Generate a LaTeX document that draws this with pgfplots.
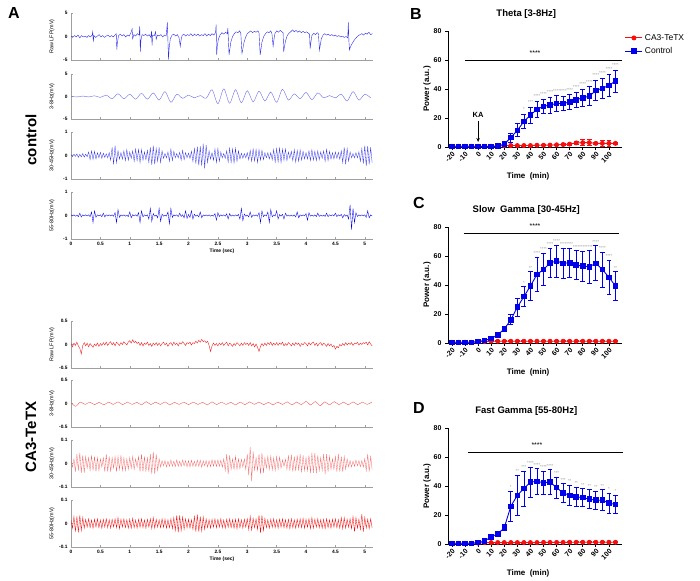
\documentclass[border=0pt]{standalone}
\usepackage{pgfplots}
\pgfplotsset{compat=1.18}
\usepackage{pgfplotstable}
\usepackage{fontspec}
\setmainfont{Liberation Sans}
\usetikzlibrary{arrows.meta}

\definecolor{tblue}{RGB}{45,45,235}
\definecolor{tred}{RGB}{238,35,35}
\definecolor{pblue}{RGB}{0,0,235}
\definecolor{pred}{RGB}{245,15,15}

\pgfplotsset{
  trace/.style={
    scale only axis, width=302pt, height=47pt, anchor=south west,
    xmin=0, xmax=5.14,
    axis x line*=bottom, axis y line*=left,
    axis line style={gray!75, line width=0.5pt},
    tick style={gray!75, line width=0.5pt},
    major tick length=2pt,
    xtick={0,0.5,...,5}, xticklabels={},
    scaled y ticks=false,
    /pgf/number format/assume math mode=true,
    tick label style={font=\fontsize{4.8}{5}\selectfont\bfseries},
    ylabel style={at={(axis description cs:-0.063,0.5)}, anchor=center,
      font=\fontsize{5.4}{6}\selectfont},
    xlabel style={at={(axis description cs:0.5,-0.25)}, anchor=center,
      font=\fontsize{5}{6}\selectfont\bfseries},
  },
  lastrow/.style={xticklabels={0,0.5,1,1.5,2,2.5,3,3.5,4,4.5,5}, xlabel={Time (sec)}},
  pw/.style={
    scale only axis, width=174pt, height=116pt, anchor=south west,
    xmin=-23, xmax=110, ymin=0, ymax=80, clip=false,
    axis x line*=bottom, axis y line*=left,
    axis line style={black, line width=0.8pt},
    tick style={black, line width=0.8pt},
    tick align=outside, major tick length=3pt,
    xtick={-20,-10,...,100}, ytick={0,20,...,80},
    /pgf/number format/assume math mode=true,
    y tick label style={font=\fontsize{7}{7}\selectfont\bfseries},
    x tick label style={font=\fontsize{7}{7}\selectfont\bfseries, rotate=45, anchor=north east,
      inner sep=1pt},
    ylabel={Power (a.u.)}, xlabel={Time\ \ (min)},
    ylabel style={at={(axis description cs:-0.12,0.5)}, anchor=center,
      font=\fontsize{8}{9}\selectfont\bfseries},
    xlabel style={at={(axis description cs:0.46,-0.25)}, anchor=center,
      font=\fontsize{8}{9}\selectfont\bfseries},
    title style={at={(axis description cs:0.45,1)}, anchor=center, yshift=11pt,
      font=\fontsize{9.5}{10}\selectfont\bfseries},
  },
  errb/.style={error bars/y dir=both, error bars/y explicit,
    error bars/error bar style={line width=0.75pt},
    error bars/error mark options={rotate=90, mark size=2.4pt, line width=0.75pt}},
  ctl/.style={pblue, line width=0.9pt, mark=square*, mark size=2.3pt, errb},
  tetx/.style={pred, line width=0.9pt, mark=*, mark size=2pt, errb},
  stars/.style={only marks, mark=none, nodes near coords, point meta=explicit symbolic,
    forget plot, nodes near coords style={font=\fontsize{4.3}{4.5}\selectfont, gray!85,
      anchor=south, inner sep=0.5pt}},
}

% power data: time, mean, sem
\pgfplotstableread{
x y e
-20 0.5 0.2
-15 0.5 0.2
-10 0.5 0.2
-5 0.5 0.2
0 0.5 0.2
5 0.3 0.2
10 0.3 0.2
15 0.6 0.3
20 2 1
25 6.5 3
30 11.5 4.5
35 17.5 5
40 22 5.5
45 26 5.5
50 28 5
55 29 5.5
60 30 5.5
65 30 5
70 31 5
75 32.5 5.5
80 34 6
85 35 6.5
90 39 7
95 40.5 7
100 42.5 7.5
105 45.5 7.5
}\thC
\pgfplotstableread{
x y e
-20 0.5 0.2
-15 0.5 0.2
-10 0.5 0.2
-5 0.5 0.2
0 0.5 0.2
5 0.5 0.2
10 0.5 0.2
15 0.6 0.2
20 1 0.3
25 1 0.3
30 1 0.3
35 1 0.3
40 1 0.3
45 1.2 0.3
50 1.2 0.3
55 1.3 0.4
60 1.5 0.5
65 1.7 0.5
70 2 0.6
75 2.8 1
80 3 2
85 3 2
90 2.5 1
95 2.5 2
100 2.5 2
105 2.5 0.8
}\thT
\pgfplotstableread{
x y s
35 24.5 *
40 29.5 ***
45 33.5 ****
50 35 ****
55 36.5 ****
60 37 ****
65 37 ****
70 37.5 ****
75 40 ****
80 42 ****
85 43.5 ****
90 48 ****
95 49.5 ****
100 52 ****
105 55 ****
}\thS

\pgfplotstableread{
x y e
-20 0.5 0.2
-15 0.5 0.2
-10 0.5 0.2
-5 0.5 0.2
0 1 0.3
5 1.8 0.5
10 3 1
15 5.7 1
20 9.6 1.5
25 16 3.5
30 24.7 6
35 32 7
40 39.3 10
45 47.3 12
50 50.7 11
55 55.3 10
60 56.5 11
65 55 10.5
70 55.3 10
75 53.7 10
80 53 10.5
85 52.6 11.5
90 55 12
95 50.7 12
100 45.3 12
105 39.3 10
}\sgC
\pgfplotstableread{
x y e
-20 0.5 0.2
-15 0.5 0.2
-10 0.5 0.2
-5 0.5 0.2
0 0.8 0.2
5 1 0.3
10 1.2 0.3
15 1.2 0.3
20 1.2 0.3
25 1.2 0.3
30 1.2 0.3
35 1.2 0.3
40 1.2 0.3
45 1.2 0.3
50 1.2 0.3
55 1.2 0.3
60 1.2 0.3
65 1.2 0.3
70 1.2 0.3
75 1.2 0.3
80 1.2 0.3
85 1.2 0.3
90 1.2 0.3
95 1.2 0.3
100 1.2 0.3
105 1.2 0.3
}\sgT
\pgfplotstableread{
x y s
35 40 *
40 50.5 **
45 60.5 ****
50 63 ****
55 66.5 ****
60 68.5 ****
65 66.5 ****
70 66.5 ****
75 65 ****
80 64.5 ****
85 65 ****
90 68 ****
95 64 ****
100 58.5 ****
105 50.5 **
}\sgS

\pgfplotstableread{
x y e
-20 0.5 0.2
-15 0.5 0.2
-10 0.5 0.2
-5 0.5 0.2
0 1 0.3
5 2 0.5
10 5 1
15 6.9 1
20 11.2 2
25 26 10.6
30 33.6 13.7
35 38.2 12
40 42.7 10.3
45 43.2 8.7
50 42.3 8
55 42.7 8.5
60 38.9 7.3
65 35.2 6.4
70 33.6 7
75 32.5 6.8
80 32 6.2
85 30.9 6.6
90 30.2 6.4
95 30.2 7.3
100 28.3 6.9
105 27.2 6.4
}\fgC
\pgfplotstableread{
x y e
-20 0.5 0.2
-15 0.5 0.2
-10 0.5 0.2
-5 0.5 0.2
0 0.6 0.2
5 1 0.3
10 1 0.3
15 1 0.3
20 1 0.3
25 1 0.3
30 1 0.3
35 1 0.3
40 1 0.3
45 1 0.3
50 1.1 0.3
55 1.1 0.3
60 1.1 0.3
65 1.1 0.3
70 1.2 0.3
75 1.2 0.3
80 1.2 0.3
85 1.2 0.3
90 1.2 0.3
95 1.2 0.3
100 1.2 0.3
105 1.2 0.3
}\fgT
\pgfplotstableread{
x y s
25 38 *
30 48.5 **
35 51.5 ***
40 54.3 ****
45 53 ****
50 51.5 ****
55 52.5 ****
60 47.5 ***
65 42.8 ***
70 41.8 **
75 40.5 **
80 39.5 **
85 38.8 **
90 37.8 **
95 38.8 **
100 36.5 *
105 35 *
}\fgS

\begin{document}
\begin{tikzpicture}
\useasboundingbox (0pt,0pt) rectangle (700pt,580pt);

% ---------- A: control traces ----------
\begin{axis}[trace, at={(71pt,520pt)}, ymin=-5, ymax=5, ytick={-5,0,5}, ylabel={Raw LFP(mV)}]
\addplot[tblue, line width=0.4pt] coordinates {
(0.00,0.1) (0.03,-0.2) (0.06,0.2) (0.09,-0.1) (0.12,0.3) (0.15,-0.3) (0.18,0.2) (0.21,-0.1)
(0.24,0.1) (0.27,-0.2) (0.30,0.2) (0.33,-0.1) (0.36,0.3) (0.37,1.0) (0.38,-1.1) (0.39,0.2)
(0.42,-0.2) (0.45,0.1) (0.48,0.4) (0.51,-0.1) (0.54,0.2) (0.57,-0.2) (0.60,0.1) (0.63,0.3)
(0.66,-0.1) (0.69,0.2) (0.72,-0.1) (0.75,0.3) (0.77,0.6) (0.78,-2.8) (0.79,-1.2) (0.81,0.2)
(0.84,0.5) (0.87,0.1) (0.90,0.4) (0.93,-0.1) (0.96,0.3) (0.99,0.1) (1.02,0.8) (1.04,1.6)
(1.05,-0.5) (1.07,0.4) (1.10,0.1) (1.13,0.6) (1.16,0.3) (1.17,2.2) (1.18,-3.2) (1.19,-0.8)
(1.21,0.4) (1.24,0.2) (1.27,0.5) (1.30,0.1) (1.33,0.4) (1.36,-0.2) (1.37,1.2) (1.38,-1.9)
(1.39,0.3) (1.42,0.2) (1.44,1.0) (1.45,-0.6) (1.47,0.3) (1.50,0.1) (1.53,0.4) (1.56,-0.1)
(1.59,0.3) (1.62,0.1) (1.64,3.0) (1.66,-4.9) (1.67,-2.5) (1.69,-0.5) (1.72,0.3) (1.75,0.5)
(1.78,0.1) (1.81,0.4) (1.84,-0.3) (1.86,-2.1) (1.87,-1.0) (1.89,0.2) (1.92,0.5) (1.95,0.1)
(1.98,0.4) (2.01,0.2) (2.04,0.6) (2.07,0.1) (2.10,0.5) (2.13,0.2) (2.16,0.5) (2.19,0.1)
(2.22,0.4) (2.25,0.2) (2.28,0.6) (2.31,0.1) (2.34,0.5) (2.37,0.2) (2.40,0.6) (2.43,0.3)
(2.46,0.8) (2.47,2.5) (2.48,-3.9) (2.49,-2.0) (2.51,-0.5) (2.54,0.4) (2.57,0.8) (2.60,0.5)
(2.63,0.9) (2.66,0.6) (2.67,1.8) (2.69,-3.9) (2.70,-3.0) (2.72,-1.2) (2.75,0.0) (2.78,0.6)
(2.81,1.0) (2.84,0.8) (2.87,1.2) (2.89,0.7) (2.91,-3.6) (2.92,-3.0) (2.94,-1.5) (2.97,-0.2)
(3.00,0.6) (3.03,0.9) (3.06,1.2) (3.09,0.8) (3.12,1.1) (3.15,0.9) (3.18,1.2) (3.20,0.8)
(3.22,-3.9) (3.23,-3.0) (3.25,-1.2) (3.28,0.0) (3.31,0.6) (3.34,1.0) (3.37,0.8) (3.40,1.2)
(3.42,0.6) (3.44,-2.1) (3.45,-1.0) (3.47,0.6) (3.50,1.2) (3.53,0.9) (3.56,1.3) (3.59,1.0)
(3.61,0.8) (3.62,-3.2) (3.63,-2.4) (3.65,-1.0) (3.68,0.2) (3.71,0.7) (3.74,1.0) (3.77,1.4)
(3.80,1.0) (3.83,1.3) (3.86,0.9) (3.89,1.2) (3.92,0.8) (3.95,1.1) (3.98,0.8) (4.01,1.0)
(4.04,0.7) (4.06,0.5) (4.07,-2.6) (4.08,-1.5) (4.10,0.2) (4.13,0.7) (4.16,0.4) (4.19,0.8)
(4.21,0.6) (4.23,-2.9) (4.24,-2.0) (4.26,-0.5) (4.29,0.3) (4.32,0.6) (4.35,0.3) (4.38,0.5)
(4.41,0.2) (4.44,0.4) (4.47,0.1) (4.50,0.3) (4.53,0.0) (4.56,0.2) (4.59,-0.1) (4.62,0.1)
(4.65,-0.2) (4.68,0.0) (4.71,-0.3) (4.72,3.0) (4.73,-1.0) (4.74,-2.9) (4.75,-2.4) (4.77,-1.8)
(4.80,-1.2) (4.83,-0.6) (4.86,-0.2) (4.89,0.2) (4.92,0.4) (4.95,0.6) (4.98,0.3) (5.01,0.7)
(5.04,0.5) (5.07,0.9) (5.10,0.4) (5.13,0.6)
};
\end{axis}

\begin{axis}[trace, at={(71pt,461pt)}, height=45pt, ymin=-5, ymax=5, ytick={-5,0,5}, ylabel={3-8Hz(mV)}]
\addplot[tblue!70, line width=0.4pt, smooth] table[row sep=\\, x expr=\coordindex*0.1, y index=0] {
0.05\\-0.1\\0.1\\-0.1\\0.15\\-0.2\\0.3\\-0.5\\0.6\\-0.5\\
0.5\\-0.6\\0.7\\-0.6\\0.8\\-0.8\\1.1\\-1.3\\0.5\\-0.4\\
0.3\\-0.3\\0.2\\-0.4\\1.5\\-1.6\\1.7\\-1.5\\1.5\\-1.4\\
1.3\\-1.2\\1.2\\-1.0\\1.0\\-1.3\\1.6\\-0.8\\0.6\\-0.5\\
0.9\\-0.7\\0.8\\-0.3\\0.2\\-0.3\\0.5\\-1.0\\1.1\\-0.8\\
0.5\\-0.3\\
};
\end{axis}

\begin{axis}[trace, at={(71pt,401pt)}, ymin=-1, ymax=1, ytick={-1,0,1}, ylabel={30-45Hz(mV)}]
\addplot[tblue, line width=0.3pt] table[row sep=\\, x expr=\coordindex*0.025, y index=0] {
0.04\\-0.05\\0.06\\-0.04\\0.07\\-0.08\\0.05\\-0.06\\0.08\\-0.07\\0.06\\-0.05\\0.15\\-0.18\\0.2\\-0.17\\0.18\\-0.15\\0.12\\-0.1\\
0.14\\-0.12\\0.1\\-0.08\\0.07\\-0.1\\0.12\\-0.2\\0.35\\-0.38\\0.42\\-0.3\\0.2\\-0.15\\0.12\\-0.16\\0.2\\-0.22\\0.25\\-0.2\\
0.15\\-0.12\\0.2\\-0.25\\0.28\\-0.22\\0.26\\-0.3\\0.25\\-0.2\\0.15\\-0.18\\0.22\\-0.3\\0.35\\-0.4\\0.42\\-0.38\\0.3\\-0.25\\
0.35\\-0.3\\0.2\\-0.12\\0.08\\-0.1\\0.15\\-0.25\\0.28\\-0.22\\0.18\\-0.1\\0.08\\-0.1\\0.14\\-0.2\\0.22\\-0.18\\0.12\\-0.1\\
0.1\\-0.12\\0.18\\-0.25\\0.3\\-0.35\\0.38\\-0.42\\0.4\\-0.45\\0.5\\-0.55\\0.45\\-0.3\\0.2\\-0.15\\0.12\\-0.2\\0.28\\-0.3\\
0.3\\-0.25\\0.15\\-0.1\\0.08\\-0.12\\0.2\\-0.28\\0.32\\-0.3\\0.28\\-0.32\\0.3\\-0.25\\0.2\\-0.15\\0.1\\-0.12\\0.08\\-0.1\\
0.12\\-0.18\\0.22\\-0.25\\0.28\\-0.24\\0.26\\-0.3\\0.25\\-0.2\\0.22\\-0.18\\0.12\\-0.1\\0.12\\-0.15\\0.12\\-0.18\\0.25\\-0.28\\
0.3\\-0.28\\0.32\\-0.3\\0.26\\-0.2\\0.28\\-0.22\\0.15\\-0.12\\0.18\\-0.22\\0.25\\-0.28\\0.22\\-0.25\\0.24\\-0.2\\0.18\\-0.15\\
0.12\\-0.15\\0.2\\-0.22\\0.25\\-0.2\\0.18\\-0.22\\0.2\\-0.18\\0.15\\-0.12\\0.2\\-0.25\\0.26\\-0.22\\0.18\\-0.15\\0.12\\-0.15\\
0.15\\-0.12\\0.14\\-0.16\\0.2\\-0.3\\0.35\\-0.38\\0.3\\-0.25\\0.15\\-0.1\\0.08\\-0.1\\0.12\\-0.1\\0.15\\-0.25\\0.3\\-0.35\\
0.42\\-0.45\\0.4\\-0.38\\0.35\\-0.3\\
};
\end{axis}

\begin{axis}[trace, lastrow, at={(71pt,341pt)}, ymin=-1, ymax=1, ytick={-1,0,1}, ylabel={55-80Hz(mV)}]
\addplot[pblue, line width=0.35pt] table[row sep=\\, x expr=\coordindex*0.025, y index=0] {
0.03\\-0.02\\0.03\\-0.03\\0.02\\-0.05\\0.1\\-0.06\\0.03\\-0.02\\0.03\\-0.02\\0.03\\-0.05\\0.15\\-0.3\\0.2\\-0.08\\0.03\\-0.02\\
0.03\\-0.05\\0.1\\-0.06\\0.03\\-0.02\\0.03\\-0.02\\0.03\\-0.03\\0.12\\-0.3\\0.25\\-0.08\\0.03\\-0.02\\0.03\\-0.03\\0.02\\-0.05\\
0.15\\-0.1\\0.04\\-0.02\\0.03\\-0.03\\0.12\\-0.3\\0.2\\-0.06\\0.03\\-0.02\\0.03\\-0.15\\0.3\\-0.25\\0.08\\-0.03\\0.02\\-0.1\\
0.3\\-0.25\\0.06\\-0.03\\0.02\\-0.03\\0.15\\-0.35\\0.3\\-0.08\\0.03\\-0.02\\0.03\\-0.05\\0.1\\-0.04\\0.03\\-0.1\\0.2\\-0.12\\
0.04\\-0.08\\0.2\\-0.15\\0.05\\-0.03\\0.02\\-0.06\\0.15\\-0.1\\0.03\\-0.02\\0.03\\-0.02\\0.03\\-0.03\\0.02\\-0.03\\0.08\\-0.2\\
0.12\\-0.04\\0.03\\-0.02\\0.03\\-0.03\\0.07\\-0.15\\0.08\\-0.03\\0.02\\-0.03\\0.03\\-0.02\\0.05\\-0.15\\0.3\\-0.22\\0.06\\-0.03\\
0.02\\-0.06\\0.15\\-0.08\\0.03\\-0.02\\0.03\\-0.03\\0.12\\-0.3\\0.2\\-0.05\\0.03\\-0.02\\0.15\\-0.3\\0.25\\-0.06\\0.03\\-0.02\\
0.2\\-0.15\\0.04\\-0.03\\0.05\\-0.15\\0.1\\-0.03\\0.02\\-0.03\\0.02\\-0.03\\0.03\\-0.06\\0.15\\-0.1\\0.03\\-0.02\\0.03\\-0.02\\
0.08\\-0.2\\0.12\\-0.03\\0.02\\-0.03\\0.03\\-0.05\\0.1\\-0.04\\0.02\\-0.03\\0.02\\-0.04\\0.1\\-0.05\\0.03\\-0.02\\0.03\\-0.02\\
0.1\\-0.05\\0.03\\-0.02\\0.05\\-0.1\\0.04\\-0.03\\0.02\\-0.15\\0.45\\-0.6\\0.3\\-0.3\\0.12\\-0.04\\0.03\\-0.02\\0.03\\-0.02\\
0.03\\-0.08\\0.2\\-0.1\\0.03\\-0.02\\
};
\end{axis}

% ---------- A: CA3-TeTX traces ----------
\begin{axis}[trace, at={(71pt,212pt)}, ymin=-0.5, ymax=0.5, ytick={-0.5,0,0.5},
  yticklabels={-0.5,0,0.5}, ylabel={Raw LFP(mV)}]
\addplot[tred, line width=0.4pt] table[row sep=\\, x expr=\coordindex*0.025, y index=0] {
0.02\\-0.05\\0.03\\-0.02\\0.05\\-0.03\\-0.08\\-0.2\\-0.02\\0.04\\-0.03\\0.03\\-0.05\\0.02\\-0.02\\-0.06\\0.01\\-0.03\\0.03\\-0.04\\
0.02\\-0.02\\0.04\\-0.01\\0.05\\-0.02\\0.03\\0.06\\-0.01\\0.04\\-0.03\\0.05\\0.02\\-0.02\\0.04\\0.0\\0.06\\0.02\\-0.01\\0.05\\
0.08\\0.03\\0.1\\0.04\\0.07\\0.02\\0.05\\-0.02\\0.04\\-0.03\\0.03\\0.0\\0.05\\-0.02\\0.02\\-0.04\\0.03\\-0.01\\0.04\\-0.02\\
0.03\\-0.03\\0.02\\0.05\\-0.01\\0.03\\-0.04\\0.02\\0.04\\-0.02\\0.05\\0.0\\0.03\\-0.03\\0.04\\0.01\\0.06\\0.02\\-0.02\\0.04\\
0.02\\0.05\\-0.01\\0.04\\0.02\\0.07\\0.03\\0.09\\0.05\\0.11\\0.06\\0.08\\0.04\\0.07\\-0.02\\-0.15\\-0.03\\0.03\\-0.02\\0.02\\
-0.03\\0.03\\-0.01\\0.04\\-0.02\\0.02\\0.05\\-0.03\\0.03\\0.0\\-0.04\\0.02\\-0.02\\0.04\\0.01\\-0.03\\0.03\\-0.02\\0.04\\0.0\\
0.03\\-0.02\\0.04\\-0.03\\0.02\\-0.05\\0.01\\-0.06\\-0.15\\-0.04\\0.02\\-0.03\\0.03\\-0.02\\0.04\\0.0\\0.05\\-0.02\\0.03\\-0.01\\
0.04\\-0.02\\0.03\\0.0\\0.05\\-0.03\\0.02\\-0.02\\0.04\\0.01\\-0.03\\0.03\\-0.02\\0.04\\0.0\\0.03\\-0.04\\0.02\\-0.01\\0.04\\
0.02\\-0.03\\0.04\\-0.01\\0.03\\0.05\\-0.02\\0.03\\-0.03\\0.02\\0.04\\-0.02\\0.03\\0.0\\-0.04\\0.02\\-0.03\\0.01\\-0.05\\-0.02\\
-0.1\\-0.04\\-0.07\\0.0\\-0.03\\0.02\\-0.02\\0.04\\-0.01\\0.03\\0.0\\0.04\\-0.02\\0.03\\0.01\\0.05\\-0.01\\0.03\\0.0\\0.04\\
0.02\\0.05\\-0.01\\0.06\\0.01\\-0.03\\
};
\end{axis}

\begin{axis}[trace, at={(71pt,153pt)}, ymin=-0.5, ymax=0.5, ytick={-0.5,0,0.5},
  yticklabels={-0.5,0,0.5}, ylabel={3-8Hz(mV)}]
\addplot[tred!75, line width=0.4pt, smooth] table[row sep=\\, x expr=\coordindex*0.08, y index=0] {
0.02\\-0.06\\0.03\\-0.02\\0.03\\-0.025\\0.025\\-0.03\\0.03\\-0.02\\0.035\\-0.025\\0.03\\-0.02\\0.025\\-0.03\\
0.04\\-0.025\\0.03\\-0.02\\0.035\\-0.03\\0.025\\-0.02\\0.03\\-0.025\\0.03\\-0.02\\0.025\\-0.03\\0.035\\-0.025\\
0.03\\-0.02\\0.025\\-0.03\\0.03\\-0.025\\0.035\\-0.02\\0.03\\-0.025\\0.025\\-0.03\\0.03\\-0.02\\0.035\\-0.03\\
0.03\\-0.025\\0.045\\-0.03\\0.04\\-0.045\\0.035\\-0.03\\0.04\\-0.025\\0.03\\-0.03\\0.035\\-0.025\\0.03\\-0.02\\0.03\\
};
\end{axis}

\begin{axis}[trace, at={(71pt,93pt)}, ymin=-0.1, ymax=0.1, ytick={-0.1,0,0.1},
  yticklabels={-0.1,0,0.1}, ylabel={30-45Hz(mV)}]
\addplot[tred!70, line width=0.3pt] table[row sep=\\, x expr=\coordindex*0.025, y index=0] {
0.01\\-0.015\\0.02\\-0.035\\0.04\\-0.03\\0.045\\-0.04\\0.035\\-0.04\\0.03\\-0.02\\0.025\\-0.03\\0.035\\-0.03\\0.03\\-0.035\\0.025\\-0.03\\
0.02\\-0.015\\0.025\\-0.035\\0.04\\-0.035\\0.03\\-0.035\\0.025\\-0.02\\0.03\\-0.035\\0.03\\-0.025\\0.035\\-0.03\\0.025\\-0.03\\0.02\\-0.025\\
0.025\\-0.02\\0.03\\-0.025\\0.02\\-0.015\\0.03\\-0.035\\0.04\\-0.035\\0.03\\-0.035\\0.025\\-0.035\\0.04\\-0.045\\0.05\\-0.045\\0.04\\-0.03\\
0.02\\-0.015\\0.012\\-0.01\\0.012\\-0.015\\0.01\\-0.012\\0.015\\-0.012\\0.01\\-0.013\\0.015\\-0.012\\0.01\\-0.012\\0.015\\-0.01\\0.012\\-0.014\\
0.012\\-0.015\\0.014\\-0.012\\0.01\\-0.013\\0.015\\-0.012\\0.014\\-0.016\\0.012\\-0.01\\0.013\\-0.015\\0.012\\-0.014\\0.016\\-0.012\\0.015\\-0.013\\
0.015\\-0.012\\0.014\\-0.016\\0.02\\-0.03\\0.04\\-0.045\\0.035\\-0.025\\0.02\\-0.025\\0.03\\-0.025\\0.02\\-0.022\\0.018\\-0.015\\0.02\\-0.025\\
0.04\\-0.05\\0.07\\-0.075\\0.05\\-0.03\\0.025\\-0.03\\0.04\\-0.045\\0.045\\-0.04\\0.025\\-0.02\\0.03\\-0.025\\0.03\\-0.028\\0.025\\-0.03\\
0.03\\-0.025\\0.028\\-0.02\\0.015\\-0.012\\0.018\\-0.025\\0.035\\-0.03\\0.038\\-0.035\\0.03\\-0.032\\0.035\\-0.03\\0.04\\-0.038\\0.035\\-0.03\\
0.025\\-0.03\\0.035\\-0.04\\0.045\\-0.04\\0.045\\-0.042\\0.035\\-0.03\\0.025\\-0.03\\0.04\\-0.045\\0.04\\-0.035\\0.03\\-0.025\\0.02\\-0.025\\
0.03\\-0.035\\0.04\\-0.035\\0.03\\-0.035\\0.03\\-0.025\\0.02\\-0.015\\0.012\\-0.015\\0.01\\-0.012\\0.015\\-0.01\\0.012\\-0.014\\0.012\\-0.015\\
0.02\\-0.03\\0.04\\-0.035\\0.03\\-0.025\\
};
\end{axis}

\begin{axis}[trace, lastrow, at={(71pt,33pt)}, ymin=-0.1, ymax=0.1, ytick={-0.1,0,0.1},
  yticklabels={-0.1,0,0.1}, ylabel={55-80Hz(mV)}]
\addplot[pred, line width=0.35pt] table[row sep=\\, x expr=\coordindex*0.025, y index=0] {
0.015\\-0.02\\0.03\\-0.035\\0.03\\-0.038\\0.035\\-0.03\\0.025\\-0.02\\0.018\\-0.015\\0.02\\-0.018\\0.015\\-0.02\\0.018\\-0.015\\0.02\\-0.018\\
0.015\\-0.02\\0.018\\-0.015\\0.02\\-0.018\\0.016\\-0.02\\0.018\\-0.015\\0.02\\-0.018\\0.025\\-0.022\\0.018\\-0.015\\0.02\\-0.018\\0.016\\-0.02\\
0.018\\-0.02\\0.022\\-0.018\\0.015\\-0.02\\0.018\\-0.016\\0.02\\-0.018\\0.015\\-0.02\\0.018\\-0.015\\0.02\\-0.022\\0.025\\-0.02\\0.018\\-0.016\\
0.016\\-0.018\\0.02\\-0.016\\0.018\\-0.02\\0.016\\-0.018\\0.02\\-0.022\\0.025\\-0.03\\0.035\\-0.038\\0.035\\-0.03\\0.028\\-0.025\\0.02\\-0.018\\
0.018\\-0.02\\0.016\\-0.025\\0.03\\-0.035\\0.038\\-0.035\\0.03\\-0.032\\0.028\\-0.025\\0.02\\-0.018\\0.016\\-0.02\\0.018\\-0.016\\0.02\\-0.018\\
0.018\\-0.016\\0.02\\-0.018\\0.015\\-0.02\\0.018\\-0.016\\0.02\\-0.018\\0.016\\-0.02\\0.018\\-0.022\\0.02\\-0.018\\0.016\\-0.02\\0.018\\-0.016\\
0.02\\-0.025\\0.03\\-0.028\\0.022\\-0.018\\0.02\\-0.025\\0.035\\-0.04\\0.035\\-0.03\\0.022\\-0.018\\0.016\\-0.02\\0.018\\-0.016\\0.02\\-0.018\\
0.016\\-0.02\\0.018\\-0.016\\0.02\\-0.018\\0.016\\-0.02\\0.018\\-0.022\\0.02\\-0.018\\0.016\\-0.02\\0.018\\-0.016\\0.02\\-0.018\\0.022\\-0.02\\
0.018\\-0.016\\0.02\\-0.022\\0.025\\-0.02\\0.018\\-0.016\\0.02\\-0.018\\0.016\\-0.02\\0.018\\-0.022\\0.02\\-0.018\\0.016\\-0.02\\0.018\\-0.016\\
0.02\\-0.018\\0.016\\-0.02\\0.025\\-0.022\\0.025\\-0.02\\0.018\\-0.016\\0.02\\-0.022\\0.03\\-0.035\\0.025\\-0.02\\0.018\\-0.025\\0.04\\-0.035\\
0.025\\-0.02\\0.018\\-0.022\\0.02\\-0.018\\
};
\end{axis}

% ---------- B: theta ----------
\begin{axis}[pw, at={(448pt,433pt)}, title={Theta [3-8Hz]},
  legend style={at={(axis description cs:1.01,1.0)}, anchor=north west, draw=none, fill=none,
    font=\fontsize{8.5}{9}\selectfont, row sep=1.5pt, inner sep=1pt},
  legend cell align=left]
\addplot[tetx] table[x=x, y=y, y error=e] {\thT};
\addlegendentry{CA3-TeTX}
\addplot[ctl] table[x=x, y=y, y error=e] {\thC};
\addlegendentry{Control}
\addplot[stars] table[x=x, y=y, meta=s] {\thS};
\addplot[black, line width=0.6pt, forget plot] coordinates {(-10,60) (110,60)};
\node[font=\fontsize{7}{7}\selectfont] at (axis cs:43.5,64.5) {****};
\node[font=\fontsize{7.5}{8}\selectfont\bfseries] at (axis cs:0,22) {KA};
\draw[-{Stealth[length=4pt,width=3.5pt]}, line width=0.8pt] (axis cs:0,18) -- (axis cs:0,3.5);
\end{axis}

% ---------- C: slow gamma ----------
\begin{axis}[pw, at={(448pt,237pt)}, title={Slow\ \ Gamma [30-45Hz]}]
\addplot[tetx] table[x=x, y=y, y error=e] {\sgT};
\addplot[ctl] table[x=x, y=y, y error=e] {\sgC};
\addplot[stars] table[x=x, y=y, meta=s] {\sgS};
\addplot[black, line width=0.6pt, forget plot] coordinates {(-11,76) (108,76)};
\node[font=\fontsize{7}{7}\selectfont] at (axis cs:43.5,80.5) {****};
\end{axis}

% ---------- D: fast gamma ----------
\begin{axis}[pw, at={(448pt,36pt)}, title={Fast Gamma [55-80Hz]}]
\addplot[tetx] table[x=x, y=y, y error=e] {\fgT};
\addplot[ctl] table[x=x, y=y, y error=e] {\fgC};
\addplot[stars] table[x=x, y=y, meta=s] {\fgS};
\addplot[black, line width=0.6pt, forget plot] coordinates {(-8,63.5) (111,63.5)};
\node[font=\fontsize{7}{7}\selectfont] at (axis cs:45,68.5) {****};
\end{axis}

% panel letters and group labels
\node[font=\fontsize{16}{16}\selectfont\bfseries] at (14pt,567pt) {A};
\node[font=\fontsize{16}{16}\selectfont\bfseries] at (416pt,566pt) {B};
\node[font=\fontsize{16}{16}\selectfont\bfseries] at (419pt,377pt) {C};
\node[font=\fontsize{16}{16}\selectfont\bfseries] at (419pt,172pt) {D};
\node[rotate=90, font=\fontsize{15}{15}\selectfont\bfseries] at (31pt,440pt) {control};
\node[rotate=90, font=\fontsize{15}{15}\selectfont\bfseries] at (31pt,143pt) {CA3-TeTX};
\end{tikzpicture}
\end{document}
